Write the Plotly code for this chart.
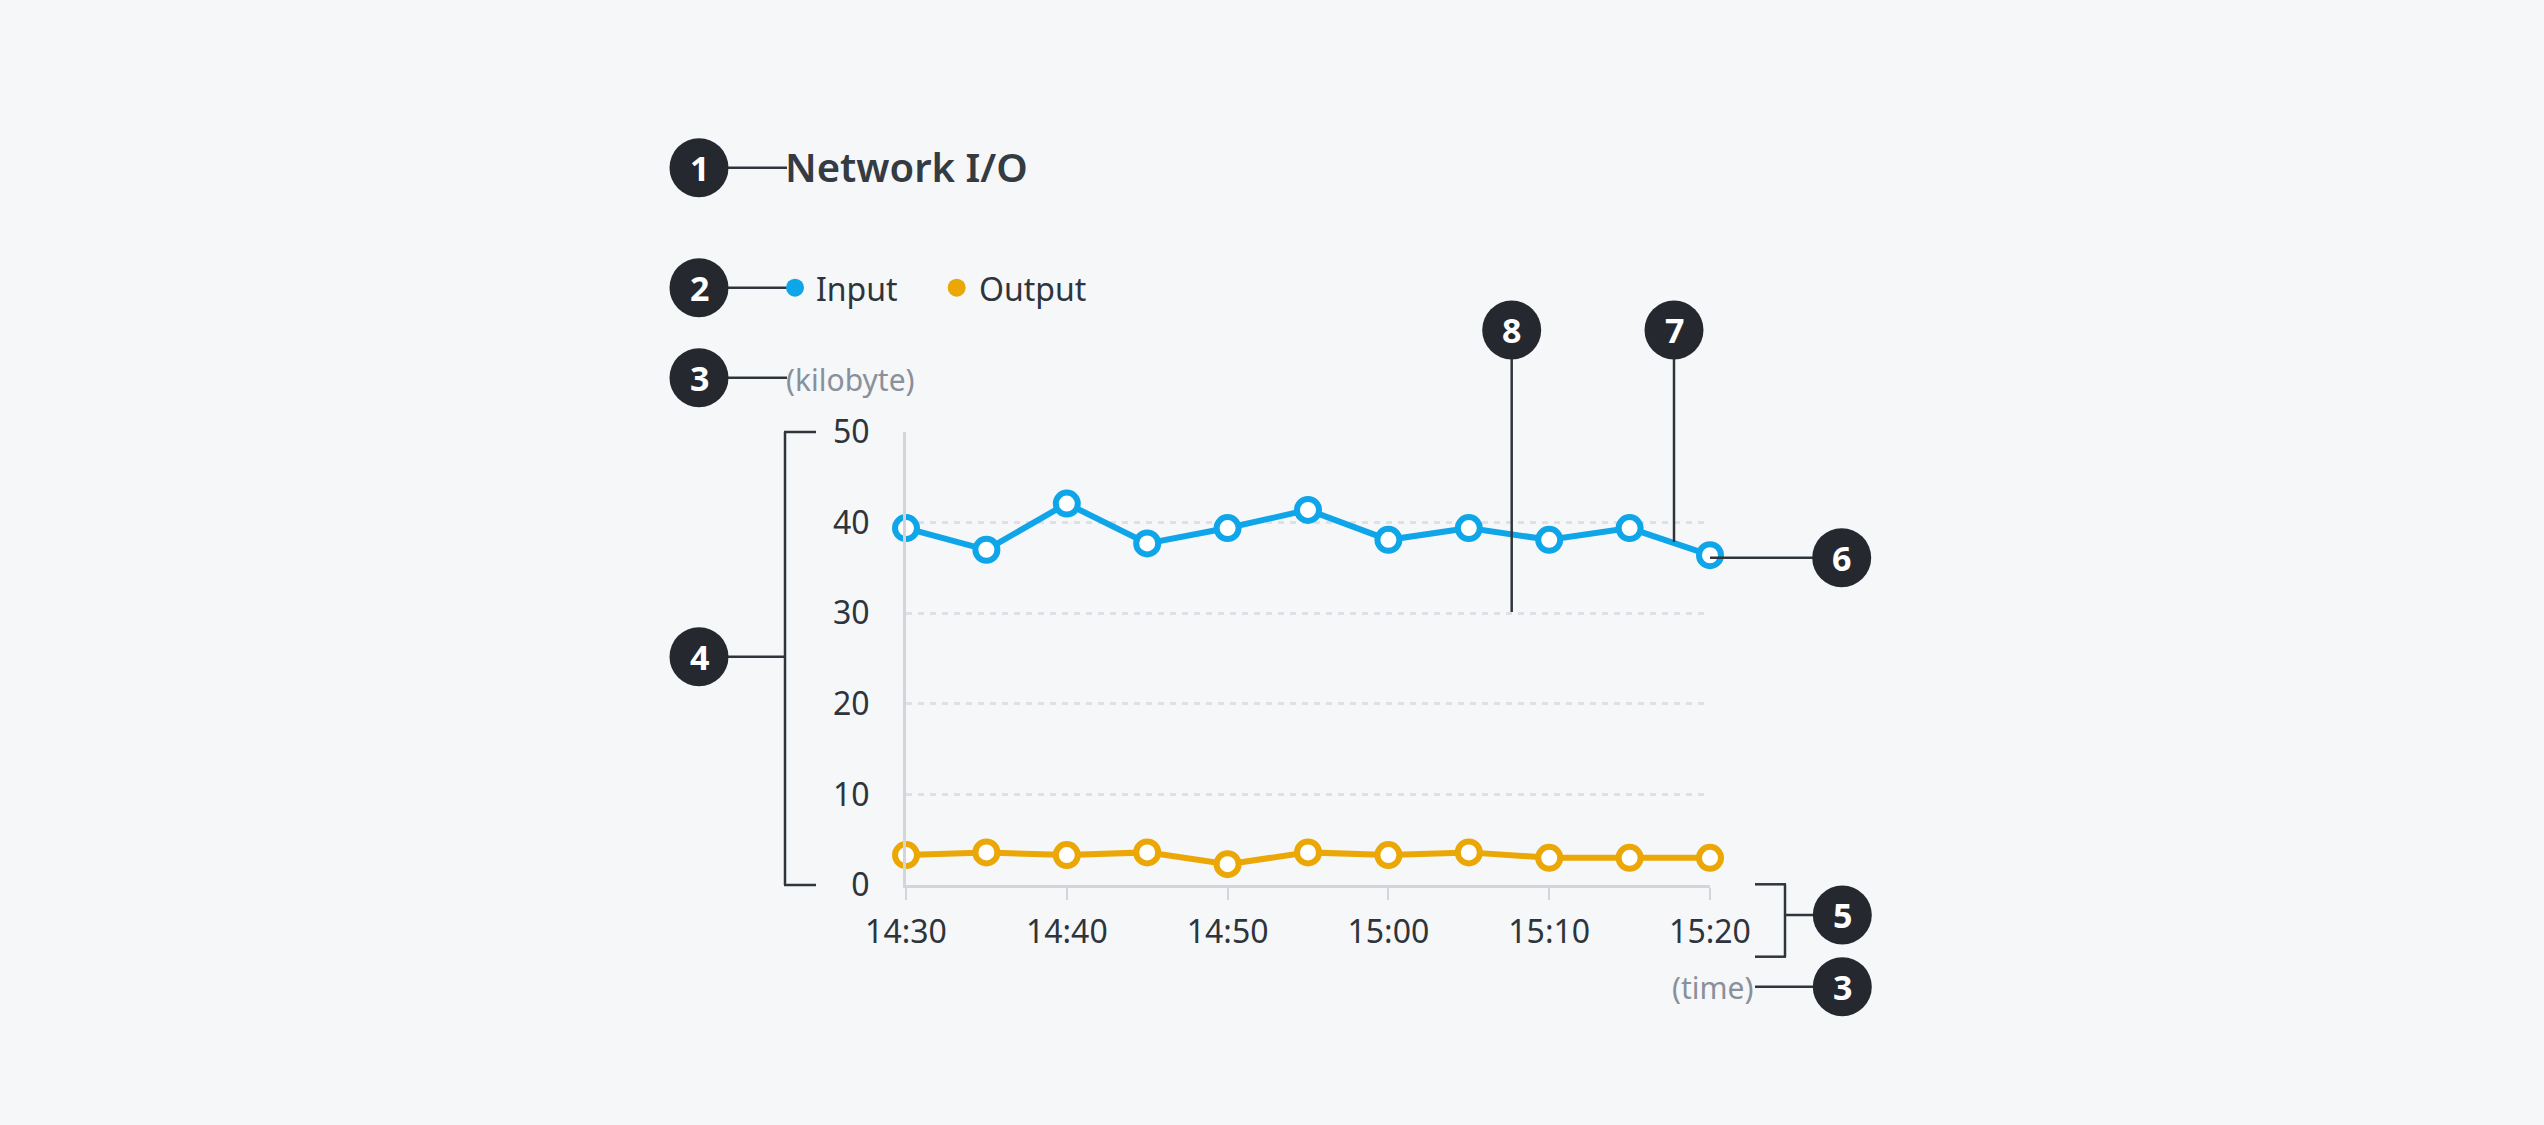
import plotly.graph_objects as go

# ---- data ----
times = ["14:30", "14:35", "14:40", "14:45", "14:50", "14:55",
         "15:00", "15:05", "15:10", "15:15", "15:20"]
input_kb = [39.4, 37.0, 42.1, 37.7, 39.4, 41.4, 38.1, 39.4, 38.1, 39.4, 36.4]
output_kb = [3.3, 3.6, 3.3, 3.6, 2.3, 3.6, 3.3, 3.6, 3.0, 3.0, 3.0]
series_names = ["Input", "Output"]
series_colors = ["#0fa5e9", "#eaa706"]
title_text = "Network I/O"
y_unit = "(kilobyte)"
x_unit = "(time)"
y_ticks = [0, 10, 20, 30, 40, 50]

# ---- layout helpers (pixel -> paper) ----
W, H = 2544, 1125
def px(x):
    return x / W
def py(y):
    return 1 - y / H

BG = "#f5f7f9"
DARK = "#25292f"
LINE_DARK = "#30353c"
TEXT = "#2e343b"
GREY_TXT = "#8a9099"
AXIS = "#d2d5da"
GRID = "#dde1e6"
FONT = "Noto Sans"

x_dates = ["2024-01-01 " + t + ":00" for t in times]

fig = go.Figure()
for name, vals, col in zip(series_names, [input_kb, output_kb], series_colors):
    fig.add_trace(go.Scatter(
        x=x_dates, y=vals, name=name, mode="lines+markers",
        line=dict(color=col, width=6),
        marker=dict(size=22, color="white", line=dict(color=col, width=6)),
        cliponaxis=False, showlegend=False,
    ))

PL, PR, PT, PB = 906, 1710, 432, 885

fig.update_layout(
    width=W, height=H, autosize=False,
    margin=dict(l=0, r=0, t=0, b=0, autoexpand=False),
    paper_bgcolor=BG, plot_bgcolor=BG,
    font=dict(family=FONT, color=TEXT),
    xaxis=dict(
        domain=[px(PL), px(PR)],
        type="date",
        range=[x_dates[0], x_dates[-1]],
        dtick=600000, tickformat="%H:%M",
        showline=True, linecolor=AXIS, linewidth=3,
        ticks="outside", ticklen=12, tickwidth=2, tickcolor=AXIS,
        showgrid=False, zeroline=False, automargin=False,
        tickfont=dict(size=32, color=TEXT, family=FONT),
        ticklabelstandoff=5,
    ),
    yaxis=dict(
        domain=[py(PB), py(PT)],
        range=[0, 50], tickvals=y_ticks,
        showline=True, linecolor=AXIS, linewidth=3,
        ticks="", showgrid=True, gridcolor=GRID, gridwidth=3, griddash="6px,6px",
        zeroline=False, automargin=False,
        tickfont=dict(size=32, color=TEXT, family=FONT),
        ticklabelstandoff=27,
    ),
)

shapes = []
annotations = []

def line(x0, y0, x1, y1, w=2.5, color=LINE_DARK):
    shapes.append(dict(type="line", xref="paper", yref="paper",
                       x0=px(x0), y0=py(y0), x1=px(x1), y1=py(y1),
                       line=dict(color=color, width=w), layer="above"))

def badge(cx, cy, label, r=29.5):
    shapes.append(dict(type="circle", xref="paper", yref="paper",
                       x0=px(cx - r), x1=px(cx + r), y0=py(cy + r), y1=py(cy - r),
                       fillcolor=DARK, line=dict(width=0), layer="above"))
    annotations.append(dict(text="<b>%s</b>" % label, x=px(cx), y=py(cy),
                            xref="paper", yref="paper", showarrow=False,
                            xanchor="center", yanchor="middle",
                            font=dict(size=34, color="white", family=FONT)))

# 1 title
line(699, 167.7, 787, 167.7)
badge(699, 167.7, "1")
annotations.append(dict(text=title_text, x=px(783), y=py(167), xref="paper", yref="paper",
                        showarrow=False, xanchor="left", yanchor="middle",
                        font=dict(size=40, color="#353b42", family=FONT, weight=600)))

# 2 legend
line(699, 287.7, 790, 287.7)
badge(699, 287.7, "2")
leg_dot_x = [795, 956.7]
leg_txt_x = [814, 977]
for name, col, dx, tx in zip(series_names, series_colors, leg_dot_x, leg_txt_x):
    shapes.append(dict(type="circle", xref="paper", yref="paper",
                       x0=px(dx - 9), x1=px(dx + 9), y0=py(287.7 + 9), y1=py(287.7 - 9),
                       fillcolor=col, line=dict(width=0), layer="above"))
    annotations.append(dict(text=name, x=px(tx), y=py(288), xref="paper", yref="paper",
                            showarrow=False, xanchor="left", yanchor="middle",
                            font=dict(size=32, color=TEXT, family=FONT)))

# 3 y unit
line(699, 377.7, 787, 377.7)
badge(699, 377.7, "3")
annotations.append(dict(text=y_unit, x=px(784), y=py(379), xref="paper", yref="paper",
                        showarrow=False, xanchor="left", yanchor="middle",
                        font=dict(size=30, color=GREY_TXT, family=FONT)))

# 4 y axis bracket
line(785, PT, 785, PB)
line(784, PT, 816, PT)
line(784, PB, 816, PB)
line(699, 656.7, 785, 656.7)
badge(699, 656.7, "4")

# 5 x axis bracket
line(1785, 884.3, 1785, 956.7)
line(1755, 884.3, 1786, 884.3)
line(1755, 956.7, 1786, 956.7)
line(1785, 915, 1842, 915)
badge(1842.3, 915, "5")

# 3 x unit
annotations.append(dict(text=x_unit, x=px(1756), y=py(987), xref="paper", yref="paper",
                        showarrow=False, xanchor="right", yanchor="middle",
                        font=dict(size=30, color=GREY_TXT, family=FONT)))
line(1755, 986.7, 1842, 986.7)
badge(1842.3, 986.7, "3")

# 6 last point
line(1710, 557.7, 1842, 557.7)
badge(1841.7, 557.7, "6")

# 7 line segment
line(1674, 330, 1674, 542)
badge(1674, 330, "7")

# 8 grid line
line(1511.7, 330, 1511.7, 612)
badge(1511.7, 330, "8")

fig.update_layout(shapes=shapes, annotations=annotations)
fig.write_html("out.html")
